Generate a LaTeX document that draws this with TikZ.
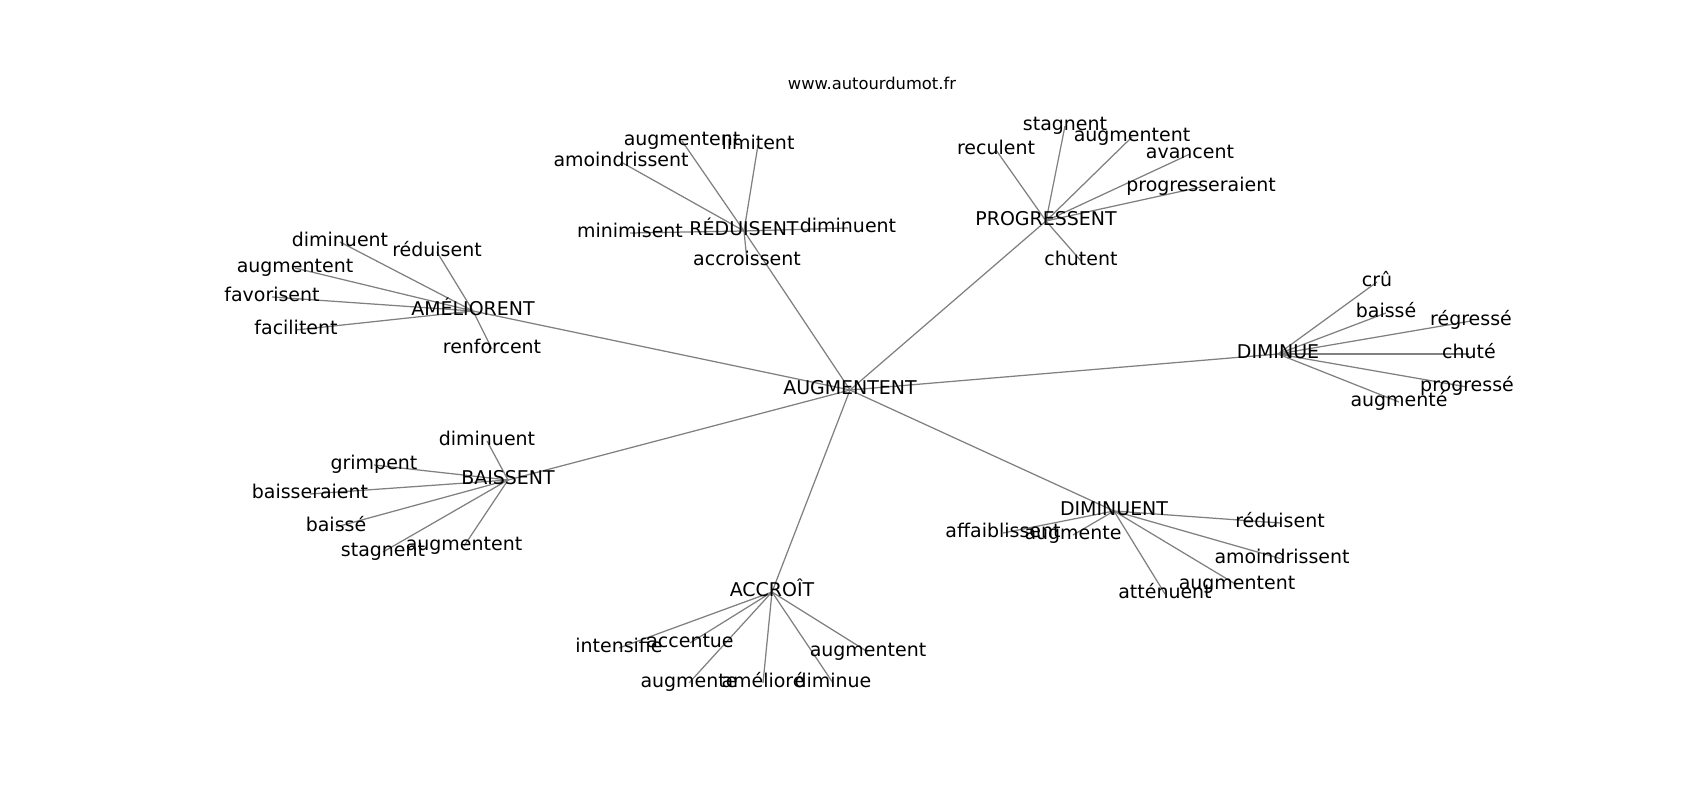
\documentclass[tikz,border=0pt]{standalone}
\usepackage{fontspec}
\setmainfont{DejaVu Sans}
\usetikzlibrary{backgrounds}

\definecolor{edgegray}{RGB}{128,128,128}

\begin{document}
\begin{tikzpicture}[x=0.01in,y=-0.01in,
  word/.style={inner sep=0pt,text height=0.96em,text depth=0.24em,font=\fontsize{13.7}{16}\selectfont},
  sitename/.style={inner sep=0pt,font=\fontsize{11.8}{14}\selectfont},
  edge/.style={draw=edgegray,line width=0.9pt}]
  \useasboundingbox (0,0) rectangle (1700,800);
  % title
  \node[sitename] (site) at(872,83){www.autourdumot.fr};
  % centre
  \node[word] (augm) at(850,390){AUGMENTENT};
  % améliorent
  \node[word] (amel) at(473,311){AMÉLIORENT};
  \node[word] (amel1) at(340,242){diminuent};
  \node[word] (amel2) at(437,252){réduisent};
  \node[word] (amel3) at(295,268){augmentent};
  \node[word] (amel4) at(272,297){favorisent};
  \node[word] (amel5) at(296,330){facilitent};
  \node[word] (amel6) at(492,349){renforcent};
  % réduisent
  \node[word] (redu) at(744,231){RÉDUISENT};
  \node[word] (redu1) at(682,141){augmentent};
  \node[word] (redu2) at(758,145){limitent};
  \node[word] (redu3) at(621,162){amoindrissent};
  \node[word] (redu4) at(630,233){minimisent};
  \node[word] (redu5) at(848,228){diminuent};
  \node[word] (redu6) at(747,261){accroissent};
  % progressent
  \node[word] (prog) at(1046,221){PROGRESSENT};
  \node[word] (prog1) at(1065,126){stagnent};
  \node[word] (prog2) at(1132,137){augmentent};
  \node[word] (prog3) at(996,150){reculent};
  \node[word] (prog4) at(1190,154){avancent};
  \node[word] (prog5) at(1201,187){progresseraient};
  \node[word] (prog6) at(1081,261){chutent};
  % diminue
  \node[word] (dimi) at(1278,354){DIMINUE};
  \node[word] (dimi1) at(1377,282){crû};
  \node[word] (dimi2) at(1386,313){baissé};
  \node[word] (dimi3) at(1471,321){régressé};
  \node[word] (dimi4) at(1469,354){chuté};
  \node[word] (dimi5) at(1467,387){progressé};
  \node[word] (dimi6) at(1399,402){augmenté};
  % baissent
  \node[word] (bais) at(508,480){BAISSENT};
  \node[word] (bais1) at(487,441){diminuent};
  \node[word] (bais2) at(374,465){grimpent};
  \node[word] (bais3) at(310,494){baisseraient};
  \node[word] (bais4) at(336,527){baissé};
  \node[word] (bais5) at(383,552){stagnent};
  \node[word] (bais6) at(464,546){augmentent};
  % diminuent
  \node[word] (dimt) at(1114,511){DIMINUENT};
  \node[word] (dimt1) at(1280,523){réduisent};
  \node[word] (dimt2) at(1003,533){affaiblissent};
  \node[word] (dimt3) at(1073,535){augmente};
  \node[word] (dimt4) at(1282,559){amoindrissent};
  \node[word] (dimt5) at(1237,585){augmentent};
  \node[word] (dimt6) at(1165,594){atténuent};
  % accroît
  \node[word] (accr) at(772,592){ACCROÎT};
  \node[word] (accr1) at(619,648){intensifie};
  \node[word] (accr2) at(690,643){accentue};
  \node[word] (accr3) at(868,652){augmentent};
  \node[word] (accr4) at(689,683){augmente};
  \node[word] (accr5) at(763,683){amélioré};
  \node[word] (accr6) at(833,683){diminue};
  % edges
  \begin{pgfonlayer}{background}
    \draw[edge] (augm.center) -- (amel.center);
    \draw[edge] (augm.center) -- (redu.center);
    \draw[edge] (augm.center) -- (prog.center);
    \draw[edge] (augm.center) -- (dimi.center);
    \draw[edge] (augm.center) -- (bais.center);
    \draw[edge] (augm.center) -- (dimt.center);
    \draw[edge] (augm.center) -- (accr.center);
    \draw[edge] (amel.center) -- (amel1.center);
    \draw[edge] (amel.center) -- (amel2.center);
    \draw[edge] (amel.center) -- (amel3.center);
    \draw[edge] (amel.center) -- (amel4.center);
    \draw[edge] (amel.center) -- (amel5.center);
    \draw[edge] (amel.center) -- (amel6.center);
    \draw[edge] (redu.center) -- (redu1.center);
    \draw[edge] (redu.center) -- (redu2.center);
    \draw[edge] (redu.center) -- (redu3.center);
    \draw[edge] (redu.center) -- (redu4.center);
    \draw[edge] (redu.center) -- (redu5.center);
    \draw[edge] (redu.center) -- (redu6.center);
    \draw[edge] (prog.center) -- (prog1.center);
    \draw[edge] (prog.center) -- (prog2.center);
    \draw[edge] (prog.center) -- (prog3.center);
    \draw[edge] (prog.center) -- (prog4.center);
    \draw[edge] (prog.center) -- (prog5.center);
    \draw[edge] (prog.center) -- (prog6.center);
    \draw[edge] (dimi.center) -- (dimi1.center);
    \draw[edge] (dimi.center) -- (dimi2.center);
    \draw[edge] (dimi.center) -- (dimi3.center);
    \draw[edge] (dimi.center) -- (dimi4.center);
    \draw[edge] (dimi.center) -- (dimi5.center);
    \draw[edge] (dimi.center) -- (dimi6.center);
    \draw[edge] (bais.center) -- (bais1.center);
    \draw[edge] (bais.center) -- (bais2.center);
    \draw[edge] (bais.center) -- (bais3.center);
    \draw[edge] (bais.center) -- (bais4.center);
    \draw[edge] (bais.center) -- (bais5.center);
    \draw[edge] (bais.center) -- (bais6.center);
    \draw[edge] (dimt.center) -- (dimt1.center);
    \draw[edge] (dimt.center) -- (dimt2.center);
    \draw[edge] (dimt.center) -- (dimt3.center);
    \draw[edge] (dimt.center) -- (dimt4.center);
    \draw[edge] (dimt.center) -- (dimt5.center);
    \draw[edge] (dimt.center) -- (dimt6.center);
    \draw[edge] (accr.center) -- (accr1.center);
    \draw[edge] (accr.center) -- (accr2.center);
    \draw[edge] (accr.center) -- (accr3.center);
    \draw[edge] (accr.center) -- (accr4.center);
    \draw[edge] (accr.center) -- (accr5.center);
    \draw[edge] (accr.center) -- (accr6.center);
  \end{pgfonlayer}
\end{tikzpicture}
\end{document}
